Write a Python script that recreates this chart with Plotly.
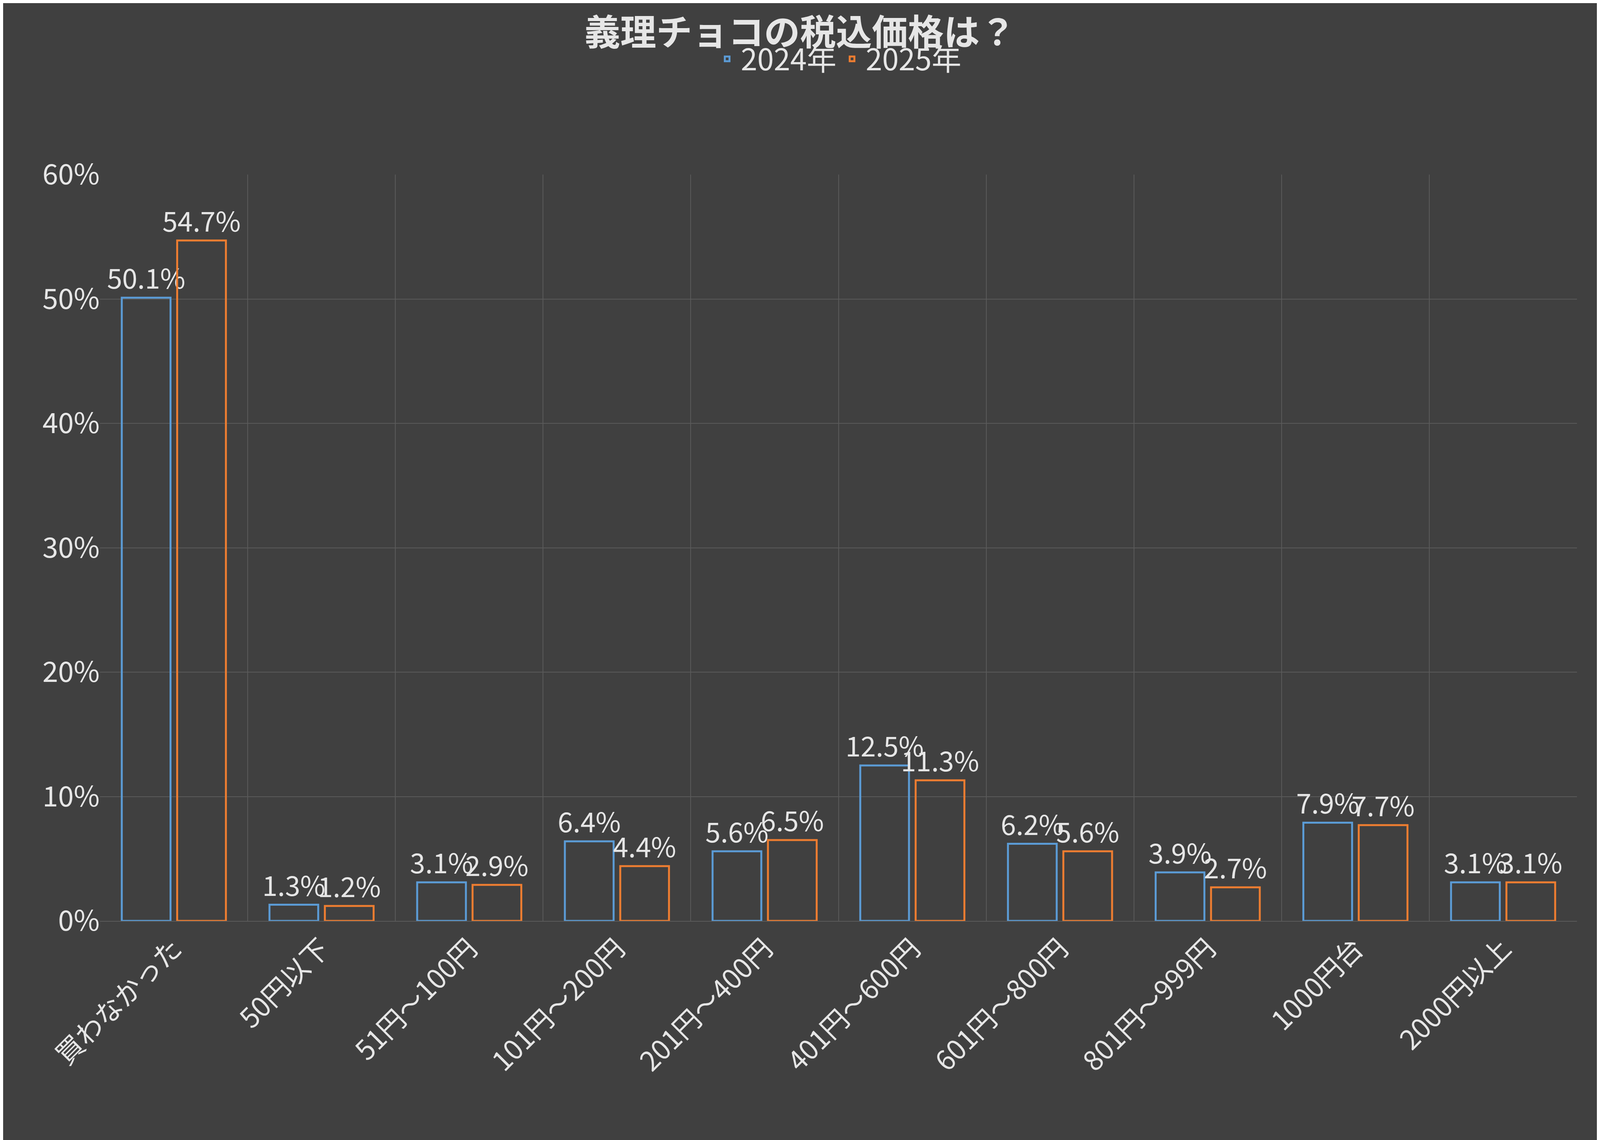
import plotly.graph_objects as go

categories = ["買わなかった", "50円以下", "51円～100円", "101円～200円", "201円～400円",
              "401円～600円", "601円～800円", "801円～999円", "1000円台", "2000円以上"]
values_2024 = [50.1, 1.3, 3.1, 6.4, 5.6, 12.5, 6.2, 3.9, 7.9, 3.1]
values_2025 = [54.7, 1.2, 2.9, 4.4, 6.5, 11.3, 5.6, 2.7, 7.7, 3.1]

FONT = "Noto Sans CJK JP"
BG = "#404040"
TXT = "#e6e6e6"

fig = go.Figure()
for name, vals, col in [("2024年", values_2024, "#5b9bd5"), ("2025年", values_2025, "#ed7d31")]:
    fig.add_trace(go.Bar(
        x=categories, y=vals, name=name,
        marker=dict(color="rgba(0,0,0,0)", line=dict(color=col, width=5)),
        text=[f"{v:.1f}%" for v in vals], textposition="outside", cliponaxis=False,
        constraintext="none",
        textfont=dict(family=FONT, size=70, color=TXT),
    ))

fig.update_layout(
    autosize=True,
    paper_bgcolor=BG, plot_bgcolor=BG,
    margin=dict(l=248, r=51, t=439, b=569),
    barmode="group", bargap=0.25, bargroupgap=0.12,
    font=dict(family=FONT, color=TXT),
    title=dict(text="<b>義理チョコの税込価格は？</b>", x=0.5, xanchor="center", y=0.985, yanchor="top",
               font=dict(family=FONT, size=92, color=TXT)),
    legend=dict(orientation="h", x=0.5, xanchor="center", y=1.155, yanchor="middle",
                font=dict(family=FONT, size=76, color=TXT), bgcolor="rgba(0,0,0,0)",
                itemwidth=60),
    uniformtext=dict(mode="show", minsize=70),
)
fig.update_xaxes(
    tickangle=-45, tickfont=dict(family=FONT, size=70, color=TXT),
    showgrid=True, gridcolor="#5a5a5a", gridwidth=2, tickson="boundaries",
    showline=True, linecolor="#5a5a5a", linewidth=2, ticks="",
)
fig.update_yaxes(
    range=[0, 60], dtick=10, ticksuffix="%",
    tickfont=dict(family=FONT, size=72, color=TXT),
    showgrid=True, gridcolor="#5a5a5a", gridwidth=2, zeroline=False,
)
fig.add_annotation(text="2024年（n=519）<br>2025年（n=521）", xref="paper", yref="paper",
                   x=1.0, y=1.33, xanchor="right", yanchor="top", align="left", showarrow=False,
                   font=dict(family=FONT, size=66, color=TXT))

fig.write_html("out.html", default_width="100%", default_height="100vh")
